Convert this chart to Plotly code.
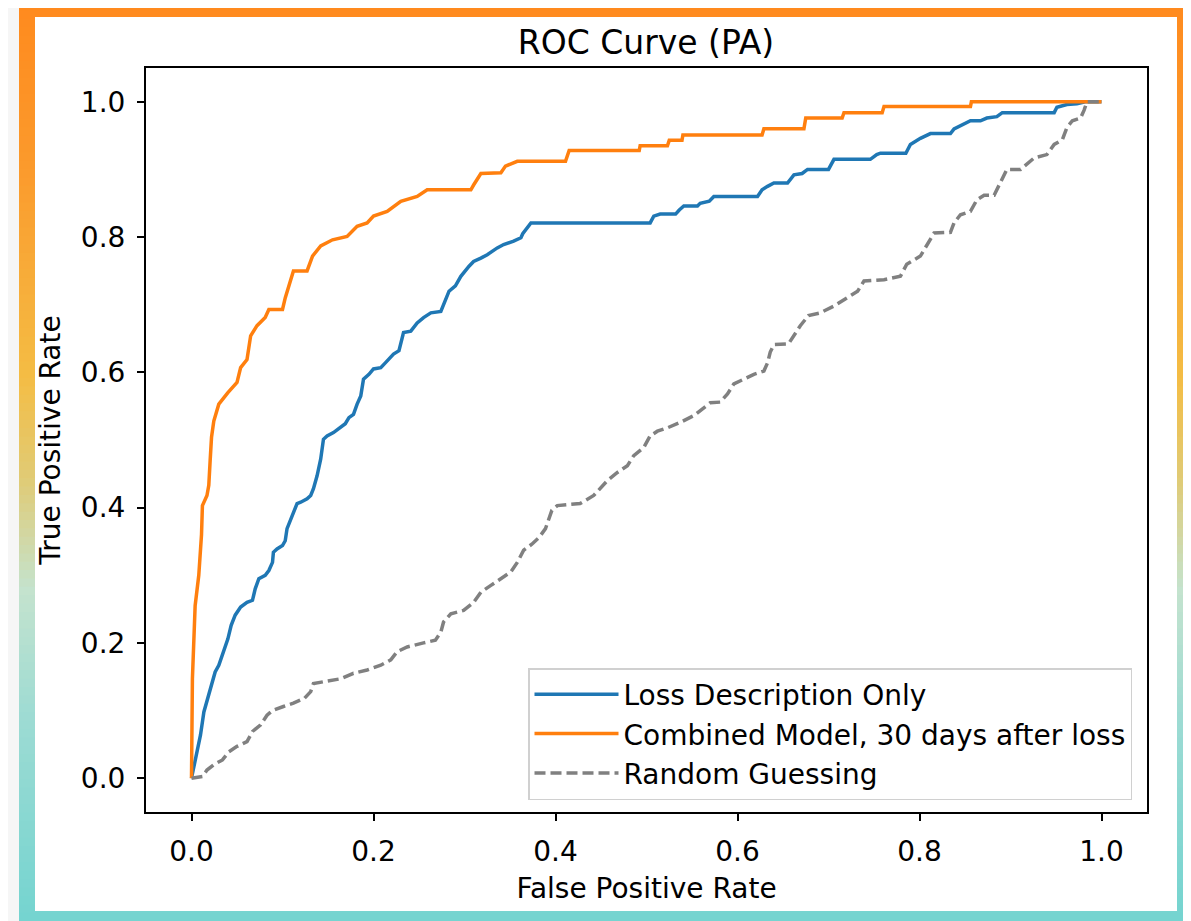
import plotly.graph_objects as go

# ---------------- data ----------------
fpr_loss = [0, 0.0044, 0.0099, 0.0136, 0.019, 0.0227, 0.026, 0.030, 0.0355, 0.040, 0.0436, 0.048, 0.054,
            0.061, 0.067, 0.070, 0.074, 0.081, 0.085, 0.089, 0.090, 0.094, 0.100, 0.103, 0.105, 0.111,
            0.116, 0.120, 0.127, 0.131, 0.134, 0.138, 0.142, 0.145, 0.149, 0.156, 0.164, 0.169, 0.173,
            0.178, 0.182, 0.186, 0.189, 0.195, 0.200, 0.208, 0.213, 0.217, 0.222, 0.228, 0.233, 0.241,
            0.248, 0.255, 0.263, 0.274, 0.279, 0.283, 0.290, 0.296, 0.305, 0.310, 0.318, 0.325, 0.336,
            0.343, 0.354, 0.362, 0.364, 0.369, 0.373, 0.504, 0.508, 0.515, 0.532, 0.536, 0.541, 0.556,
            0.559, 0.569, 0.574, 0.622, 0.627, 0.633, 0.640, 0.655, 0.662, 0.671, 0.677, 0.700, 0.706,
            0.746, 0.753, 0.757, 0.785, 0.790, 0.801, 0.812, 0.834, 0.838, 0.849, 0.856, 0.867, 0.874,
            0.885, 0.891, 0.948, 0.951, 0.962, 0.973, 0.982, 1.000]
tpr_loss = [0, 0.030, 0.064, 0.098, 0.123, 0.138, 0.157, 0.167, 0.187, 0.206, 0.226, 0.241, 0.253,
            0.260, 0.263, 0.280, 0.295, 0.300, 0.307, 0.319, 0.334, 0.339, 0.344, 0.351, 0.369, 0.388,
            0.406, 0.408, 0.413, 0.418, 0.428, 0.447, 0.472, 0.501, 0.506, 0.511, 0.519, 0.524, 0.533,
            0.538, 0.553, 0.565, 0.590, 0.597, 0.605, 0.607, 0.614, 0.619, 0.627, 0.632, 0.659, 0.661,
            0.673, 0.681, 0.688, 0.690, 0.708, 0.720, 0.728, 0.742, 0.757, 0.764, 0.769, 0.774, 0.784,
            0.789, 0.794, 0.799, 0.805, 0.814, 0.821, 0.821, 0.831, 0.834, 0.834, 0.840, 0.846, 0.846,
            0.850, 0.853, 0.860, 0.860, 0.870, 0.875, 0.880, 0.880, 0.892, 0.894, 0.900, 0.900, 0.915,
            0.915, 0.922, 0.924, 0.924, 0.937, 0.946, 0.953, 0.953, 0.960, 0.968, 0.972, 0.972, 0.976,
            0.978, 0.984, 0.984, 0.992, 0.996, 0.997, 1.000, 1.000]

fpr_comb = [0, 0.001, 0.004, 0.008, 0.011, 0.012, 0.017, 0.019, 0.0205, 0.022, 0.0245, 0.030, 0.040,
            0.050, 0.054, 0.061, 0.065, 0.072, 0.081, 0.085, 0.100, 0.103, 0.112, 0.127, 0.133, 0.142,
            0.155, 0.171, 0.182, 0.193, 0.200, 0.215, 0.230, 0.248, 0.259, 0.307, 0.310, 0.318, 0.340,
            0.345, 0.358, 0.411, 0.415, 0.492, 0.493, 0.523, 0.525, 0.539, 0.540, 0.627, 0.629, 0.673,
            0.675, 0.715, 0.717, 0.759, 0.761, 0.856, 0.857, 1.000]
tpr_comb = [0, 0.147, 0.255, 0.300, 0.360, 0.403, 0.418, 0.433, 0.470, 0.504, 0.528, 0.553, 0.570,
            0.585, 0.607, 0.619, 0.654, 0.669, 0.681, 0.693, 0.693, 0.710, 0.750, 0.750, 0.772, 0.787,
            0.796, 0.801, 0.816, 0.821, 0.831, 0.838, 0.853, 0.860, 0.870, 0.870, 0.877, 0.894, 0.895,
            0.905, 0.912, 0.912, 0.928, 0.928, 0.935, 0.935, 0.943, 0.943, 0.951, 0.951, 0.960, 0.960,
            0.976, 0.976, 0.984, 0.984, 0.993, 0.993, 1.000, 1.000]

fpr_rand = [0, 0.012, 0.017, 0.0245, 0.034, 0.041, 0.050, 0.061, 0.067, 0.076, 0.083, 0.089, 0.101,
            0.112, 0.124, 0.131, 0.134, 0.149, 0.164, 0.178, 0.193, 0.208, 0.219, 0.226, 0.237, 0.255,
            0.268, 0.274, 0.277, 0.285, 0.299, 0.310, 0.318, 0.329, 0.340, 0.351, 0.358, 0.365, 0.374,
            0.382, 0.389, 0.396, 0.402, 0.427, 0.442, 0.457, 0.468, 0.479, 0.486, 0.497, 0.504, 0.512,
            0.523, 0.537, 0.552, 0.559, 0.570, 0.581, 0.589, 0.596, 0.607, 0.618, 0.629, 0.633, 0.636,
            0.640, 0.656, 0.662, 0.669, 0.678, 0.691, 0.706, 0.720, 0.732, 0.739, 0.761, 0.779, 0.786,
            0.801, 0.812, 0.816, 0.834, 0.838, 0.845, 0.856, 0.863, 0.871, 0.882, 0.889, 0.896, 0.911,
            0.920, 0.926, 0.940, 0.948, 0.957, 0.962, 0.968, 0.977, 0.981, 0.984, 1.000]
tpr_rand = [0, 0.0025, 0.012, 0.020, 0.027, 0.039, 0.047, 0.054, 0.069, 0.079, 0.093, 0.100, 0.106,
            0.111, 0.118, 0.128, 0.140, 0.143, 0.147, 0.155, 0.160, 0.167, 0.175, 0.187, 0.194, 0.200,
            0.204, 0.216, 0.231, 0.243, 0.248, 0.260, 0.275, 0.285, 0.295, 0.305, 0.319, 0.337, 0.346,
            0.356, 0.369, 0.396, 0.403, 0.406, 0.418, 0.440, 0.452, 0.462, 0.477, 0.489, 0.506, 0.513,
            0.518, 0.526, 0.536, 0.543, 0.555, 0.556, 0.568, 0.583, 0.590, 0.597, 0.602, 0.614, 0.630,
            0.641, 0.642, 0.655, 0.669, 0.684, 0.688, 0.698, 0.710, 0.720, 0.735, 0.737, 0.742, 0.760,
            0.772, 0.796, 0.806, 0.807, 0.821, 0.833, 0.838, 0.855, 0.862, 0.862, 0.880, 0.900, 0.900,
            0.910, 0.917, 0.922, 0.937, 0.944, 0.962, 0.972, 0.976, 0.988, 1.000, 1.000]

series_names = ["Loss Description Only", "Combined Model, 30 days after loss", "Random Guessing"]
tick_vals = [0.0, 0.2, 0.4, 0.6, 0.8, 1.0]
tick_text = ["0.0", "0.2", "0.4", "0.6", "0.8", "1.0"]

# ---------------- layout geometry ----------------
# The page body has an 8px default margin, so the figure is sized to fit the window with it.
OFF = 8
W, H = 1191 - OFF, 921 - OFF
ML, MT = 146 - OFF, 68 - OFF
MR, MB = W - (1147 - OFF), H - (812 - OFF)
PW, PH = W - ML - MR, H - MT - MB
FONT = "DejaVu Sans"


def px_x(p):
    """window pixel x -> paper x"""
    return (p - OFF - ML) / PW


def px_y(p):
    """window pixel y -> paper y"""
    return (H - MB - (p - OFF)) / PH


def hex2rgb(h):
    h = h.lstrip("#")
    return tuple(int(h[i:i + 2], 16) for i in (0, 2, 4))


grad_stops = [(0.0, "#FF8A1E"), (0.18, "#FB9A2C"), (0.41, "#F4BD45"), (0.52, "#E0CB76"),
              (0.64, "#C4E3CE"), (0.78, "#9DDBD3"), (1.0, "#74D4D0")]


def grad_color(t):
    for (t0, c0), (t1, c1) in zip(grad_stops[:-1], grad_stops[1:]):
        if t <= t1:
            f = (t - t0) / (t1 - t0) if t1 > t0 else 0
            a, b = hex2rgb(c0), hex2rgb(c1)
            r = [round(a[i] + (b[i] - a[i]) * f) for i in range(3)]
            return "rgb(%d,%d,%d)" % tuple(r)
    return grad_stops[-1][1]


shapes = []
top, bot = 2, 921
nb = 110
for i in range(nb):
    y0 = top + (bot - top) * i / nb
    y1 = top + (bot - top) * (i + 1) / nb + 0.8
    shapes.append(dict(type="rect", xref="paper", yref="paper", layer="below",
                       x0=px_x(19), x1=px_x(1195), y0=px_y(min(y1, bot + 2)), y1=px_y(y0),
                       fillcolor=grad_color((i + 0.5) / nb), line=dict(width=0)))
shapes.append(dict(type="rect", xref="paper", yref="paper", layer="below",
                   x0=px_x(35), x1=px_x(1177), y0=px_y(911), y1=px_y(17),
                   fillcolor="white", line=dict(width=0)))

fig = go.Figure()
fig.add_trace(go.Scatter(x=fpr_loss, y=tpr_loss, mode="lines", name=series_names[0],
                         line=dict(color="#1f77b4", width=3.5), legendgroup="a"))
fig.add_trace(go.Scatter(x=fpr_comb, y=tpr_comb, mode="lines", name=series_names[1],
                         line=dict(color="#ff7f0e", width=3.5), legendgroup="b"))
fig.add_trace(go.Scatter(x=fpr_rand, y=tpr_rand, mode="lines", name=series_names[2],
                         line=dict(color="#808080", width=3.5, dash="11px,5px"), legendgroup="c"))

axis_common = dict(range=[-0.05, 1.05], showgrid=False, zeroline=False, showline=True, mirror=True,
                   linecolor="black", linewidth=2, ticks="outside", ticklen=7, tickwidth=2,
                   tickcolor="black", tickvals=tick_vals, ticktext=tick_text,
                   tickfont=dict(family=FONT, size=28, color="black"))

fig.update_layout(
    width=W, height=H,
    margin=dict(l=ML, r=MR, t=MT, b=MB),
    paper_bgcolor="#f6f6f6", plot_bgcolor="white",
    font=dict(family=FONT, color="black"),
    title=dict(text="ROC Curve (PA)", x=(646 - OFF) / W, xanchor="center",
               y=1 - (42 - OFF) / H, yanchor="middle", yref="container", xref="container",
               font=dict(family=FONT, size=33, color="black")),
    xaxis=dict(**axis_common, ticklabelstandoff=6,
               title=dict(text="False Positive Rate", font=dict(family=FONT, size=28, color="black"),
                          standoff=12)),
    yaxis=dict(**axis_common, ticklabelstandoff=6,
               title=dict(text="True Positive Rate", font=dict(family=FONT, size=28, color="black"),
                          standoff=12)),
    legend=dict(x=px_x(1132), y=px_y(800), xanchor="right", yanchor="bottom",
                bgcolor="white", bordercolor="#d0d0d0", borderwidth=1.5,
                font=dict(family=FONT, size=28, color="black"),
                itemwidth=84, tracegroupgap=9, traceorder="normal"),
    shapes=shapes,
)

fig.write_html("out.html")
